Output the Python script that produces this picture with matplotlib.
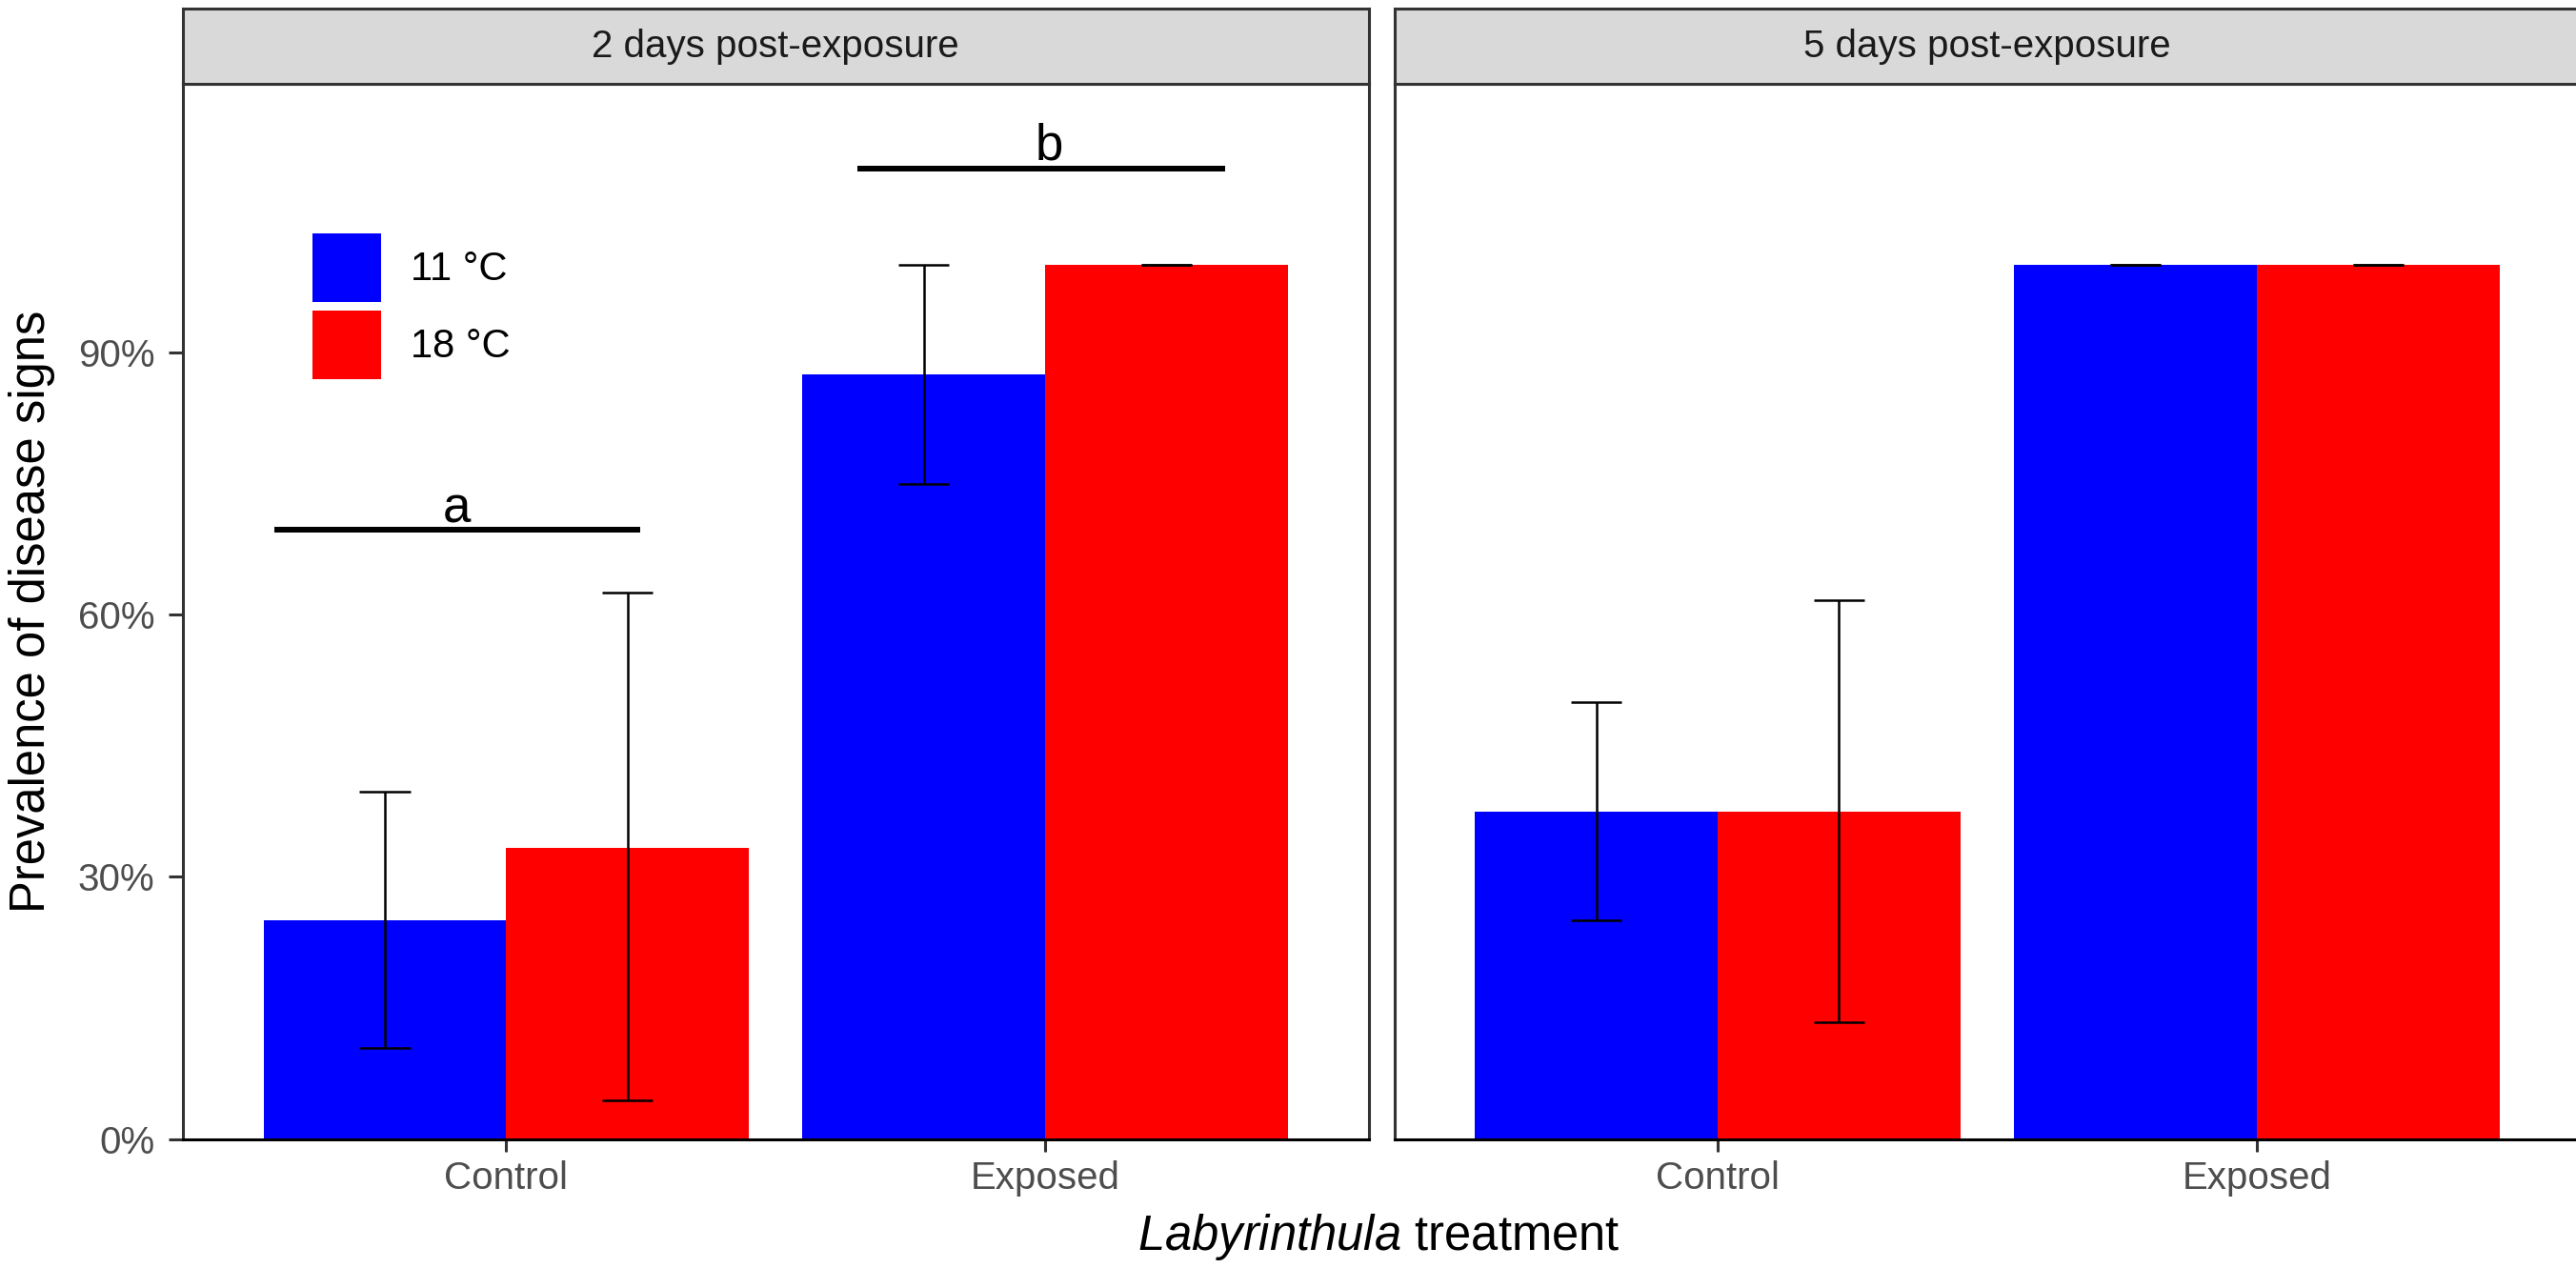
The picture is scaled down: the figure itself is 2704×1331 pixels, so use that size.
import matplotlib
matplotlib.use("Agg")
import matplotlib.pyplot as plt
from matplotlib.patches import Patch
import numpy as np

plt.rcParams['font.family'] = ['Liberation Sans', 'DejaVu Sans']
plt.rcParams['mathtext.fontset'] = 'custom'
plt.rcParams['mathtext.rm'] = 'Liberation Sans'
plt.rcParams['mathtext.it'] = 'Liberation Sans:italic'

# ---------------- data ----------------
treatments = ["Control", "Exposed"]
panels = ["2 days post-exposure", "5 days post-exposure"]
temps = ["11 °C", "18 °C"]
colors = ["#0000FF", "#FF0000"]

# prevalence (fraction) per panel -> per temperature -> per treatment
day2_11 = [0.25, 0.875]
day2_18 = [0.333, 1.00]
day5_11 = [0.375, 1.00]
day5_18 = [0.375, 1.00]

day2_11_lo = [0.104, 0.75]
day2_11_hi = [0.398, 1.00]
day2_18_lo = [0.044, 1.00]
day2_18_hi = [0.625, 1.00]
day5_11_lo = [0.25, 1.00]
day5_11_hi = [0.50, 1.00]
day5_18_lo = [0.134, 1.00]
day5_18_hi = [0.617, 1.00]

y_ticks = [0.0, 0.3, 0.6, 0.9]
y_ticklabels = ["0%", "30%", "60%", "90%"]

# significance letters (panel 1)
sig_letters = ["a", "b"]
sig_x0 = [0.570, 1.652]
sig_x1 = [1.249, 2.333]
sig_y = [0.697, 1.1105]
sig_xt = [0.909, 2.007]
sig_yt = [0.706, 1.121]

values = [[day2_11, day2_18], [day5_11, day5_18]]
lows = [[day2_11_lo, day2_18_lo], [day5_11_lo, day5_18_lo]]
highs = [[day2_11_hi, day2_18_hi], [day5_11_hi, day5_18_hi]]

# ---------------- layout ----------------
W, H = 2704, 1331
fig = plt.figure(figsize=(W / 100, H / 100), dpi=100)

def fx(px):
    return px / W

def fy(py):
    return 1 - py / H

pan_w = 1245
pan_left = [191.7, 1463.6]
pan_top, pan_bot = 88.0, 1195.7
strip_top = 9.3

tick_col = "#4D4D4D"
border_col = "#333333"
x = np.arange(1, len(treatments) + 1)
bw = 0.45
cap = 0.047

axes = []
for i, pl in enumerate(pan_left):
    ax = fig.add_axes([fx(pl), fy(pan_bot), fx(pan_w), (pan_bot - pan_top) / H])
    axes.append(ax)
    for j in range(2):
        xc = x + (j - 0.5) * bw
        ax.bar(xc, values[i][j], width=bw, color=colors[j], zorder=2)
        ax.vlines(xc, lows[i][j], highs[i][j], color="black", lw=1.8, zorder=3)
        ax.hlines(lows[i][j], xc - cap, xc + cap, color="black", lw=1.8, zorder=3)
        ax.hlines(highs[i][j], xc - cap, xc + cap, color="black", lw=1.8, zorder=3)
    ax.set_xlim(0.4, 2.6)
    ax.set_ylim(0, 1.2075)
    ax.set_xticks(x)
    ax.set_xticklabels(treatments)
    ax.set_yticks(y_ticks)
    for s in ax.spines.values():
        s.set_color(border_col)
        s.set_linewidth(2.2)
    ax.spines['bottom'].set_color('black')
    ax.tick_params(axis='x', length=9, width=2.2, color=border_col,
                   labelsize=29, labelcolor=tick_col, pad=7)
    if i == 0:
        ax.set_yticklabels(y_ticklabels)
        ax.tick_params(axis='y', length=11, width=2.2, color=border_col,
                       labelsize=29, labelcolor=tick_col, pad=10)
    else:
        ax.tick_params(axis='y', length=0, labelleft=False)

    # strip
    sax = fig.add_axes([fx(pl), fy(pan_top), fx(pan_w), (pan_top - strip_top) / H])
    sax.set_facecolor("#D9D9D9")
    sax.set_xticks([])
    sax.set_yticks([])
    for s in sax.spines.values():
        s.set_color(border_col)
        s.set_linewidth(2.2)
    sax.text(0.5, 0.5, panels[i], ha='center', va='center', fontsize=29,
             color="#1A1A1A", transform=sax.transAxes)

# significance annotations on first panel
ax0 = axes[0]
for k in range(len(sig_letters)):
    ax0.plot([sig_x0[k], sig_x1[k]], [sig_y[k], sig_y[k]], color='black',
             lw=4.3, solid_capstyle='butt', zorder=4)
    ax0.text(sig_xt[k], sig_yt[k], sig_letters[k], ha='center', va='baseline',
             fontsize=38, color='black', zorder=4)

# legend
handles = [Patch(facecolor=colors[j], edgecolor='none', label=temps[j]) for j in range(2)]
fig.legend(handles=handles, loc='upper left', bbox_to_anchor=(fx(328), fy(245)),
           frameon=False, fontsize=30, handlelength=1.73, handleheight=2.3,
           labelspacing=0.2, handletextpad=0.75, borderpad=0, borderaxespad=0)

# axis titles
fig.text(fx(34), fy((pan_top + pan_bot) / 2), "Prevalence of disease signs",
         rotation=90, ha='center', va='center', fontsize=36.5, color='black')
fig.text(fx(1447), fy(1311.7), r"$\mathit{Labyrinthula}$ treatment",
         ha='center', va='baseline', fontsize=36.5, color='black')

fig.savefig("out.png", dpi=100, facecolor='white')
